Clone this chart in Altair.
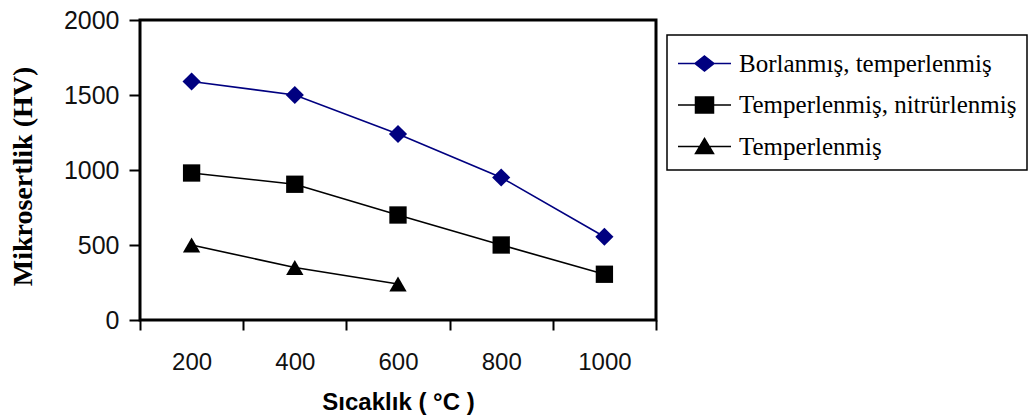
import altair as alt
import pandas as pd

temps = ["200", "400", "600", "800", "1000"]
series_names = ["Borlanmış, temperlenmiş", "Temperlenmiş, nitrürlenmiş", "Temperlenmiş"]
borlanmis = [1590, 1500, 1240, 950, 555]
nitrur = [980, 905, 700, 500, 305]
temperlenmis = [500, 350, 240]

rows = []
for t, v in zip(temps, borlanmis):
    rows.append({"temp": t, "hv": v, "series": series_names[0]})
for t, v in zip(temps, nitrur):
    rows.append({"temp": t, "hv": v, "series": series_names[1]})
for t, v in zip(temps[:3], temperlenmis):
    rows.append({"temp": t, "hv": v, "series": series_names[2]})
df = pd.DataFrame(rows)

colors = ["#000080", "#000000", "#000000"]
legend_paths = [
    "M-2.65,0H2.65M0,-0.75L0.95,0L0,0.75L-0.95,0Z",
    "M-2.65,0H2.65M-0.9,-0.8H0.9V0.8H-0.9Z",
    "M-2.65,0H2.65M0,-0.8L0.9,0.7H-0.9Z",
]
point_shapes = ["diamond", "square", "triangle-up"]
point_sizes = [330, 300, 300]

x_enc = alt.X(
    "temp:O",
    sort=temps,
    bandPosition=0.5,
    scale=alt.Scale(type="band", paddingInner=0, paddingOuter=0),
    axis=alt.Axis(
        title="Sıcaklık ( °C )",
        labelAngle=0,
        tickBand="extent",
        domain=False,
        ticks=True,
        tickSize=10,
        tickWidth=2,
        tickColor="black",
        labelPadding=20,
        labelFont="Liberation Sans",
        labelFontSize=24,
        labelColor="#111111",
        titleFont="Liberation Sans",
        titleFontSize=24,
        titleFontWeight="bold",
        titleColor="black",
        titleBaseline="middle",
        titleY=82,
    ),
)
y_enc = alt.Y(
    "hv:Q",
    scale=alt.Scale(domain=[0, 2000], nice=False),
    axis=alt.Axis(
        title="Mikrosertlik (HV)",
        values=[0, 500, 1000, 1500, 2000],
        format="d",
        grid=False,
        domain=False,
        tickSize=11,
        tickWidth=2,
        tickColor="black",
        labelPadding=10,
        labelFont="Liberation Sans",
        labelFontSize=25,
        labelColor="#111111",
        titleFont="Liberation Serif",
        titleFontSize=28,
        titleFontWeight="bold",
        titleColor="black",
        titleBaseline="middle",
        titleX=-117,
        titleY=156,
    ),
)

base = alt.Chart(df)

layers = []
for name, col, shp, sz in zip(series_names, colors, point_shapes, point_sizes):
    sub = base.transform_filter(alt.datum.series == name)
    layers.append(sub.mark_line(strokeWidth=1.6, color=col).encode(x=x_enc, y=y_enc))
    layers.append(
        sub.mark_point(shape=shp, size=sz, filled=True, opacity=1, color=col).encode(x=x_enc, y=y_enc)
    )

leg = alt.Legend(
    title=" ",
    titleFontSize=1,
    titlePadding=5,
    orient="none",
    legendX=527,
    legendY=15,
    labelFont="Liberation Serif",
    labelFontSize=25,
    labelColor="black",
    labelLimit=500,
    symbolSize=400,
    symbolStrokeWidth=1.5,
    symbolOffset=15,
    labelOffset=22,
    rowPadding=15.5,
    padding=10,
    strokeColor="black",
    fillColor="white",
)

legend_layer = base.transform_filter("false").mark_point(
    filled=True, opacity=1, size=400
).encode(
    x=x_enc,
    y=y_enc,
    color=alt.Color("series:N", scale=alt.Scale(domain=series_names, range=colors), legend=leg),
    stroke=alt.Stroke("series:N", scale=alt.Scale(domain=series_names, range=colors), legend=leg),
    shape=alt.Shape("series:N", scale=alt.Scale(domain=series_names, range=legend_paths), legend=leg),
)

chart = alt.layer(*layers, legend_layer).properties(
    width=516,
    height=300,
    padding={"left": 140, "top": 20, "right": 374, "bottom": 97},
    autosize=alt.AutoSizeParams(type="none"),
    background="white",
).configure_view(
    stroke="black", strokeWidth=3
).configure_legend(
    strokeWidth=1.5
)

chart.save("out.html", embed_options={"renderer": "svg", "actions": False})
